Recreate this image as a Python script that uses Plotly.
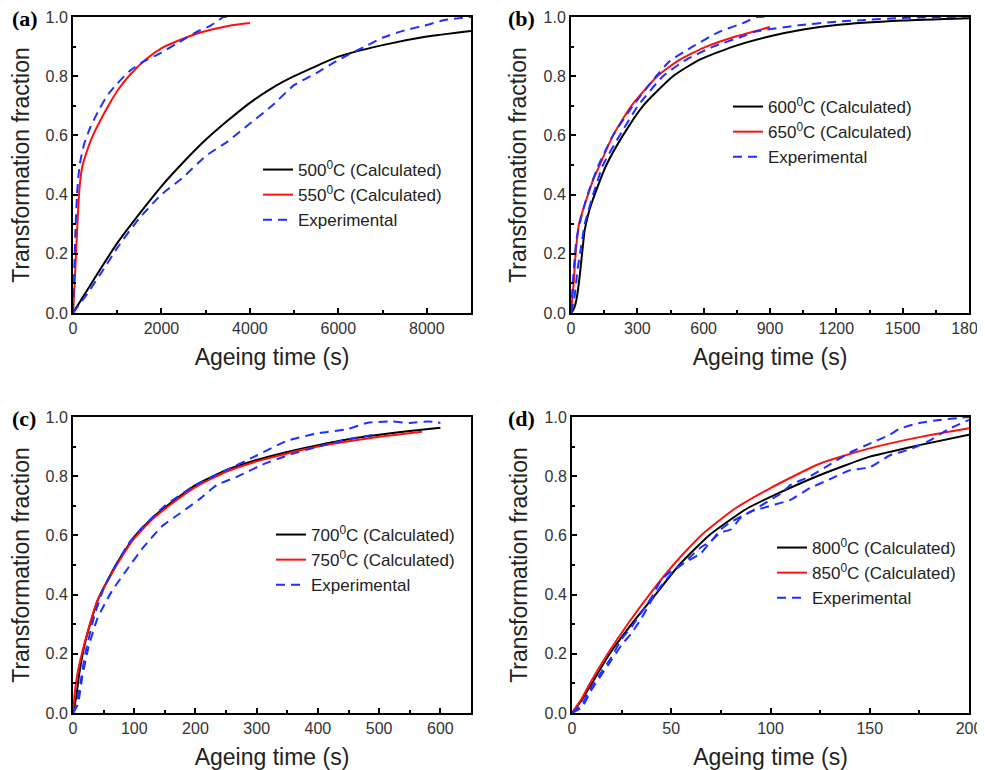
import plotly.graph_objects as go

# ---------------- data ----------------
# (a)
a_t500 = [0, 500, 1000, 1500, 2000, 2500, 3000, 3500, 4000, 4500, 5000, 6000, 7000, 8000, 9000]
a_f500 = [0, 0.12, 0.236, 0.335, 0.428, 0.51, 0.585, 0.65, 0.71, 0.76, 0.80, 0.866, 0.905, 0.934, 0.953]
a_t550 = [0, 38, 68, 100, 136, 170, 211, 300, 422, 600, 800, 1000, 1290, 1630, 2005, 2460, 2830, 3210, 3590, 4000]
a_f550 = [0, 0.1, 0.2, 0.3, 0.4, 0.455, 0.495, 0.54, 0.59, 0.645, 0.7, 0.75, 0.805, 0.855, 0.895, 0.925, 0.945, 0.96, 0.972, 0.98]
a_te1 = [0, 300, 700, 1000, 1500, 2000, 2500, 3000, 3500, 4000, 4500, 5000, 5500, 6000, 6600, 7000, 7500, 8000, 8400, 9000]
a_fe1 = [0, 0.06, 0.15, 0.22, 0.32, 0.4, 0.46, 0.53, 0.58, 0.64, 0.7, 0.77, 0.81, 0.855, 0.9, 0.93, 0.955, 0.973, 0.99, 1.0]
a_te2 = [0, 30, 60, 100, 150, 250, 400, 600, 800, 1000, 1300, 1600, 2000, 2400, 2800, 3100, 3300, 3400, 3600]
a_fe2 = [0, 0.15, 0.3, 0.42, 0.5, 0.57, 0.63, 0.69, 0.74, 0.775, 0.82, 0.85, 0.88, 0.915, 0.95, 0.97, 0.99, 1.0, 1.0]

# (b)
b_t600 = [0, 10, 20, 30, 40, 50, 62, 84, 107, 160, 235, 326, 461, 582, 733, 900, 1050, 1200, 1500, 1800]
b_f600 = [0, 0.01, 0.03, 0.07, 0.13, 0.2, 0.28, 0.35, 0.4, 0.5, 0.6, 0.7, 0.8, 0.856, 0.9, 0.935, 0.958, 0.973, 0.988, 0.996]
b_t650 = [0, 12, 21, 36, 55, 77, 100, 130, 190, 273, 390, 492, 612, 748, 900]
b_f650 = [0, 0.1, 0.2, 0.3, 0.35, 0.4, 0.45, 0.5, 0.6, 0.7, 0.8, 0.856, 0.9, 0.935, 0.966]
b_te1 = [0, 15, 30, 45, 62, 100, 145, 220, 303, 416, 522, 643, 778, 830, 1030, 1200, 1330, 1500, 1800]
b_fe1 = [0, 0.05, 0.15, 0.22, 0.3, 0.4, 0.5, 0.6, 0.7, 0.8, 0.856, 0.9, 0.935, 0.95, 0.972, 0.984, 0.99, 0.997, 1.0]
b_te2 = [0, 10, 25, 45, 75, 125, 190, 280, 385, 445, 550, 670, 780, 840, 900]
b_fe2 = [0, 0.12, 0.25, 0.32, 0.4, 0.5, 0.6, 0.7, 0.8, 0.85, 0.9, 0.95, 0.98, 1.0, 1.0]

# (c)
c_t700 = [0, 5, 10, 20, 40, 70, 100, 130, 160, 200, 250, 300, 350, 400, 450, 500, 550, 600]
c_f700 = [0, 0.05, 0.13, 0.24, 0.38, 0.5, 0.595, 0.66, 0.71, 0.77, 0.82, 0.855, 0.882, 0.905, 0.925, 0.94, 0.953, 0.964]
c_t750 = [0, 3, 8, 20, 40, 70, 100, 130, 160, 200, 250, 300, 350, 400, 450, 500, 570]
c_f750 = [0, 0.07, 0.14, 0.245, 0.38, 0.495, 0.59, 0.655, 0.705, 0.763, 0.815, 0.85, 0.877, 0.9, 0.918, 0.933, 0.95]
c_te1 = [0, 8, 15, 25, 40, 63, 90, 115, 145, 175, 205, 235, 270, 308, 350, 400, 450, 490]
c_fe1 = [0, 0.03, 0.12, 0.22, 0.32, 0.41, 0.49, 0.56, 0.63, 0.675, 0.72, 0.77, 0.80, 0.838, 0.87, 0.9, 0.925, 0.94]
c_te2 = [0, 5, 12, 20, 35, 50, 70, 90, 110, 150, 200, 250, 300, 350, 400, 450, 480, 520, 550, 580, 600]
c_fe2 = [0, 0.02, 0.1, 0.2, 0.33, 0.42, 0.5, 0.57, 0.62, 0.7, 0.77, 0.82, 0.87, 0.92, 0.945, 0.96, 0.98, 0.985, 0.98, 0.985, 0.98]

# (d)
d_t800 = [0, 5, 10, 19, 30, 42, 54, 69, 88, 100, 125, 150, 175, 200]
d_f800 = [0, 0.045, 0.1, 0.2, 0.3, 0.4, 0.5, 0.6, 0.69, 0.73, 0.804, 0.866, 0.905, 0.94]
d_t850 = [0, 5, 9, 18, 28, 39, 51, 65, 82, 100, 125, 150, 175, 200]
d_f850 = [0, 0.05, 0.1, 0.2, 0.3, 0.4, 0.5, 0.6, 0.69, 0.76, 0.843, 0.894, 0.932, 0.962]
d_te1 = [0, 5, 10, 15, 20, 25, 30, 35, 40, 45, 50, 55, 60, 65, 70, 75, 80, 85, 90, 100, 110, 120, 130, 140, 150, 160, 170, 180, 190, 200]
d_fe1 = [0, 0.02, 0.08, 0.13, 0.18, 0.23, 0.27, 0.32, 0.38, 0.43, 0.47, 0.5, 0.52, 0.54, 0.58, 0.61, 0.62, 0.66, 0.68, 0.7, 0.72, 0.76, 0.79, 0.82, 0.83, 0.87, 0.89, 0.92, 0.96, 0.99]
d_te2 = [0, 5, 10, 15, 20, 25, 30, 35, 40, 45, 50, 55, 60, 65, 70, 75, 80, 90, 100, 105, 110, 120, 130, 140, 150, 160, 165, 175, 185, 200]
d_fe2 = [0, 0.03, 0.09, 0.14, 0.19, 0.25, 0.29, 0.34, 0.39, 0.45, 0.48, 0.5, 0.53, 0.56, 0.58, 0.62, 0.645, 0.68, 0.72, 0.74, 0.77, 0.8, 0.84, 0.88, 0.91, 0.94, 0.96, 0.98, 0.99, 1.0]

panel_labels = ["(a)", "(b)", "(c)", "(d)"]
temps = [("500", "550"), ("600", "650"), ("700", "750"), ("800", "850")]
x_ranges = [[0, 9000], [0, 1800], [0, 650], [0, 200]]
x_dticks = [2000, 300, 100, 50]
y_ticks = [0, 0.2, 0.4, 0.6, 0.8, 1.0]

panels = [
    (a_t500, a_f500, a_t550, a_f550, [(a_te1, a_fe1), (a_te2, a_fe2)]),
    (b_t600, b_f600, b_t650, b_f650, [(b_te1, b_fe1), (b_te2, b_fe2)]),
    (c_t700, c_f700, c_t750, c_f750, [(c_te1, c_fe1), (c_te2, c_fe2)]),
    (d_t800, d_f800, d_t850, d_f850, [(d_te1, d_fe1), (d_te2, d_fe2)]),
]

# ---------------- layout geometry (window pixels) ----------------
OFF = 8                     # default page body margin
W, H = 985 - OFF, 770 - OFF  # figure size so that it ends at the window edge
boxes = [(73, 471, 17, 313), (571, 969, 17, 313), (73, 471, 417, 713), (572, 969, 417, 713)]
legend_pos = [(258, 152), (728, 89), (271, 517), (772, 530)]
label_x = [10, 506, 10, 506]

fig = go.Figure()
FONT = "Liberation Sans, Arial, sans-serif"
SPL = dict(shape="spline", smoothing=0.5)


def px(x):
    return (x - OFF) / W


def py(y):
    return 1 - (y - OFF) / H


for i, (tb, fb, tr, fr, exps) in enumerate(panels):
    xa = "x" if i == 0 else f"x{i+1}"
    ya = "y" if i == 0 else f"y{i+1}"
    lg = "legend" if i == 0 else f"legend{i+1}"
    t1, t2 = temps[i]
    fig.add_trace(go.Scatter(x=tb, y=fb, mode="lines", xaxis=xa, yaxis=ya, legend=lg,
                             name=f"{t1}<sup>0</sup>C (Calculated)",
                             line=dict(color="black", width=2, **SPL)))
    fig.add_trace(go.Scatter(x=tr, y=fr, mode="lines", xaxis=xa, yaxis=ya, legend=lg,
                             name=f"{t2}<sup>0</sup>C (Calculated)",
                             line=dict(color="#ff1010", width=2, **SPL)))
    for j, (te, fe) in enumerate(exps):
        fig.add_trace(go.Scatter(x=te, y=fe, mode="lines", xaxis=xa, yaxis=ya, legend=lg,
                                 name="Experimental", showlegend=(j == 0),
                                 line=dict(color="#1f2fff", width=2, dash="9px,6px", **SPL)))

    x0, x1, y0, y1 = boxes[i]
    dom_x = [px(x0), px(x1)]
    dom_y = [py(y1), py(y0)]
    axcommon = dict(showline=True, linecolor="black", linewidth=2, mirror=True,
                    ticks="inside", ticklen=5, tickwidth=1.5, tickcolor="black",
                    showgrid=False, zeroline=False, automargin=False,
                    ticklabeloverflow="allow",
                    tickfont=dict(family=FONT, size=16, color="#333333"),
                    title_font=dict(family=FONT, size=23, color="#222222"))
    fig.layout[("xaxis" if i == 0 else f"xaxis{i+1}")] = dict(
        domain=dom_x, anchor=ya, range=x_ranges[i], dtick=x_dticks[i], tick0=0,
        minor=dict(dtick=x_dticks[i] / 2, ticks="inside", ticklen=3, tickcolor="black"),
        title=dict(text="Ageing time (s)", standoff=13), **axcommon)
    fig.layout[("yaxis" if i == 0 else f"yaxis{i+1}")] = dict(
        domain=dom_y, anchor=xa, range=[0, 1.0], tickvals=y_ticks, tickformat=".1f",
        minor=dict(dtick=0.1, ticks="inside", ticklen=3, tickcolor="black"),
        title=dict(text="Transformation fraction", standoff=10), **axcommon)

    lx, ly = legend_pos[i]
    fig.layout[lg] = dict(x=px(lx), y=py(ly), xanchor="left", yanchor="top",
                          bgcolor="rgba(0,0,0,0)", borderwidth=0,
                          font=dict(family=FONT, size=17, color="#222222"),
                          traceorder="normal")

    fig.add_annotation(text=f"<b>{panel_labels[i]}</b>", xref="paper", yref="paper",
                       x=px(label_x[i]), y=py(y0 + 1), xanchor="left", yanchor="middle",
                       showarrow=False,
                       font=dict(family="Liberation Serif, Times New Roman, serif", size=22, color="black"))

fig.update_layout(width=W, height=H, margin=dict(l=0, r=0, t=0, b=0, autoexpand=False),
                  paper_bgcolor="white", plot_bgcolor="white")

fig.write_html("out.html")
